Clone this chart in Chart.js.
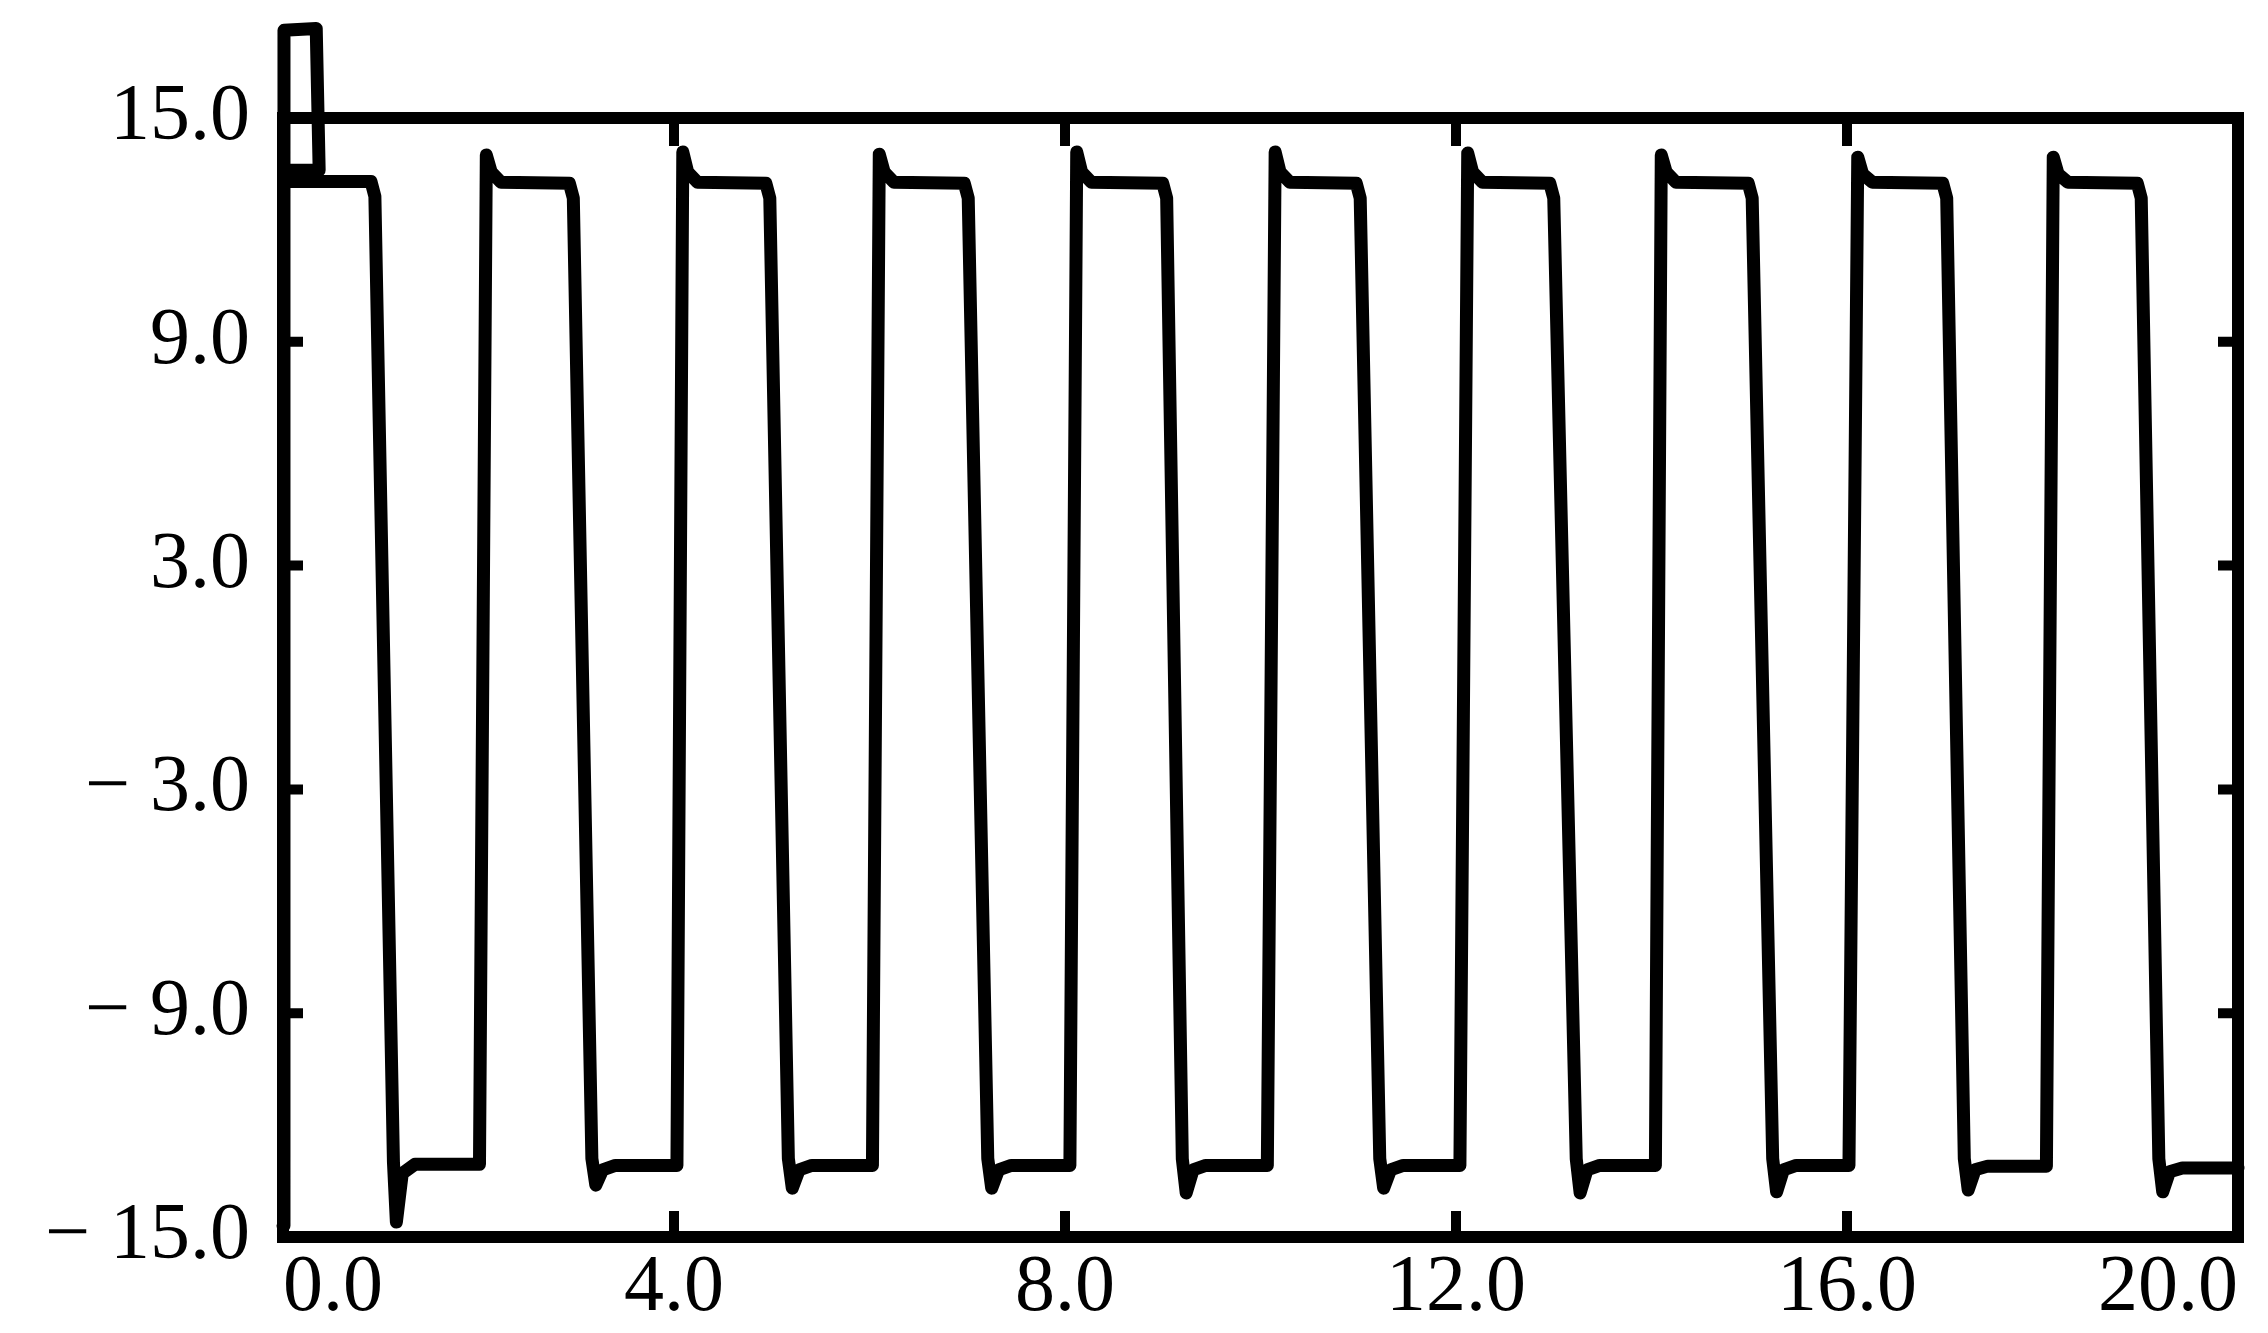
<!DOCTYPE html>
<html>
<head>
<meta charset="utf-8">
<title>Square wave</title>
<script src="https://cdn.jsdelivr.net/npm/chart.js"></script>
<style>
    html, body { margin: 0; padding: 0; background: #fff; }
    canvas { display: block; }
</style>
</head>
<body>
<canvas id="wave-chart" width="2268" height="1333"></canvas>
<script>
// Axis ranges and tick steps
const xRange = [0, 20];
const yRange = [-15, 15];
const xStep = 4;
const yStep = 6;

// Trace: time and value, point by point
const times = [
    0.00, 0.01, 0.34, 0.37, 0.02, 0.04, 0.55, 0.90, 0.94, 1.13, 1.16, 1.22, 1.35,
    2.01, 2.08, 2.13, 2.23, 2.93, 2.97, 3.16, 3.20, 3.27, 3.40,
    4.03, 4.09, 4.14, 4.24, 4.94, 4.98, 5.17, 5.21, 5.28, 5.41,
    6.03, 6.10, 6.15, 6.25, 6.97, 7.01, 7.21, 7.25, 7.32, 7.45,
    8.05, 8.12, 8.17, 8.27, 9.00, 9.04, 9.20, 9.24, 9.31, 9.44,
    10.07, 10.15, 10.20, 10.30, 10.98, 11.02, 11.22, 11.26, 11.33, 11.46,
    12.04, 12.12, 12.17, 12.27, 12.96, 13.00, 13.23, 13.27, 13.34, 13.47,
    14.04, 14.10, 14.15, 14.25, 14.99, 15.03, 15.24, 15.28, 15.35, 15.48,
    16.02, 16.11, 16.16, 16.26, 16.98, 17.02, 17.20, 17.24, 17.31, 17.44,
    18.04, 18.11, 18.16, 18.26, 18.97, 19.01, 19.19, 19.23, 19.30, 19.43,
    20.00
];
const values = [
    -14.70, 17.35, 17.40, 13.60, 13.60, 13.30, 13.30, 13.30, 12.90, -13.00, -14.60, -13.30, -13.05,
    -13.05, 14.01, 13.55, 13.28, 13.25, 12.85, -12.90, -13.61, -13.20, -13.08,
    -13.08, 14.09, 13.55, 13.28, 13.25, 12.85, -12.90, -13.69, -13.20, -13.08,
    -13.08, 14.03, 13.55, 13.28, 13.25, 12.85, -12.90, -13.69, -13.20, -13.08,
    -13.08, 14.09, 13.55, 13.28, 13.25, 12.85, -12.90, -13.82, -13.20, -13.08,
    -13.08, 14.09, 13.55, 13.28, 13.25, 12.85, -12.90, -13.69, -13.20, -13.08,
    -13.08, 14.06, 13.55, 13.28, 13.25, 12.85, -12.90, -13.82, -13.20, -13.08,
    -13.08, 14.01, 13.55, 13.28, 13.25, 12.85, -12.90, -13.79, -13.20, -13.08,
    -13.08, 13.95, 13.50, 13.28, 13.25, 12.85, -12.90, -13.74, -13.20, -13.10,
    -13.10, 13.95, 13.50, 13.28, 13.25, 12.85, -12.90, -13.79, -13.25, -13.15,
    -13.15
];

const tickFont = { family: "'Liberation Serif', 'DejaVu Serif', serif", size: 80 };

// Label like the original: one decimal, minus sign set apart
function formatTick(v) {
    const s = Math.abs(v).toFixed(1);
    return v < 0 ? '\u2212 ' + s : s;
}

// Box around the plot and the short inward ticks on all four sides
const framePlugin = {
    id: 'frame',
    afterDatasetsDraw(chart) {
        const { ctx, chartArea: a, scales } = chart;
        ctx.save();
        ctx.strokeStyle = '#000';
        ctx.lineWidth = 12;
        ctx.strokeRect(a.left, a.top, a.right - a.left, a.bottom - a.top);

        ctx.lineWidth = 10;
        ctx.beginPath();
        scales.x.ticks.forEach((t, i, arr) => {
            if (i === 0 || i === arr.length - 1) return;
            const px = scales.x.getPixelForValue(t.value);
            ctx.moveTo(px, a.bottom); ctx.lineTo(px, a.bottom - 26);
            ctx.moveTo(px, a.top); ctx.lineTo(px, a.top + 28);
        });
        scales.y.ticks.forEach((t, i, arr) => {
            if (i === 0 || i === arr.length - 1) return;
            const py = scales.y.getPixelForValue(t.value);
            ctx.moveTo(a.left, py); ctx.lineTo(a.left + 20, py);
            ctx.moveTo(a.right, py); ctx.lineTo(a.right - 20, py);
        });
        ctx.stroke();
        ctx.restore();
    }
};

const ctx = document.getElementById('wave-chart').getContext('2d');
new Chart(ctx, {
    type: 'scatter',
    data: {
        datasets: [{
            label: 'trace',
            data: times.map((t, i) => ({ x: t, y: values[i] })),
            showLine: true,
            borderColor: '#000',
            borderWidth: 13,
            borderJoinStyle: 'round',
            borderCapStyle: 'round',
            pointRadius: 0,
            tension: 0,
            clip: false
        }]
    },
    options: {
        responsive: false,
        animation: false,
        layout: { padding: { top: 118, right: 30, left: 0, bottom: 0 } },
        plugins: { legend: { display: false }, tooltip: { enabled: false } },
        scales: {
            x: {
                type: 'linear',
                min: xRange[0],
                max: xRange[1],
                grid: { display: false, drawTicks: false },
                border: { display: false },
                ticks: {
                    stepSize: xStep,
                    align: 'inner',
                    padding: 4,
                    color: '#000',
                    font: tickFont,
                    maxRotation: 0,
                    callback: formatTick
                },
                afterFit(scale) { scale.height = 96; }
            },
            y: {
                type: 'linear',
                min: yRange[0],
                max: yRange[1],
                grid: { display: false, drawTicks: false },
                border: { display: false },
                ticks: {
                    stepSize: yStep,
                    padding: 33,
                    color: '#000',
                    font: tickFont,
                    callback: formatTick
                },
                afterFit(scale) { scale.width = 283; }
            }
        }
    },
    plugins: [framePlugin]
});
</script>
</body>
</html>
